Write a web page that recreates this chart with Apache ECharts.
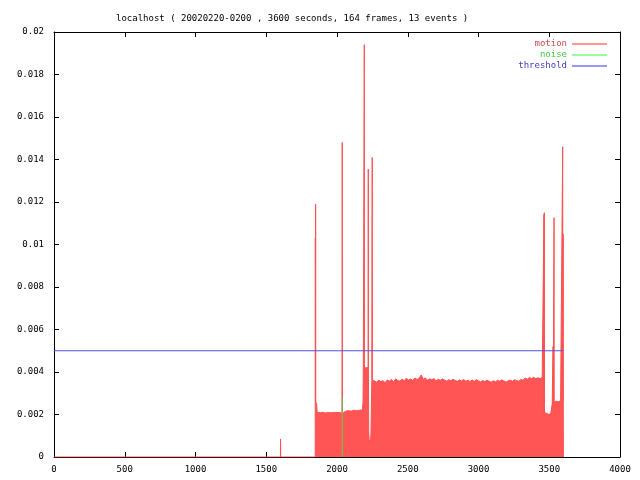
<!DOCTYPE html>
<html><head><meta charset="utf-8">
<script src="https://cdn.jsdelivr.net/npm/echarts@6/dist/echarts.min.js"></script>
<style>html,body{margin:0;padding:0;background:#fff}#c{width:640px;height:480px}</style>
</head><body><div id="c"></div>
<script>
const titleText = 'localhost ( 20020220-0200 , 3600 seconds, 164 frames, 13 events )';
const seriesNames = ['motion', 'noise', 'threshold'];
const xTicks = [0, 500, 1000, 1500, 2000, 2500, 3000, 3500, 4000];
const yTicks = [0, 0.002, 0.004, 0.006, 0.008, 0.01, 0.012, 0.014, 0.016, 0.018, 0.02];

const motionSeconds = [0,1600,1601,1602,1846,1847,1848,1849,1850,1856,1860,1880,1900,1920,1940,1960,1980,2000,2020,2035,2036,2037,2038,2039,2045,2060,2080,2100,2120,2140,2160,2180,2184,2186,2192,2193,2194,2220,2221,2222,2224,2228,2232,2236,2240,2246,2248,2249,2250,
2265,2280,2295,2310,2325,2340,2355,2370,2385,2400,2415,2430,2445,2460,2475,2490,2505,2520,2535,2550,2565,2580,2595,2610,2625,2640,2655,2670,2685,2700,2715,2730,2745,2760,2775,2790,2805,2820,2835,2850,2865,2880,2895,2910,2925,2940,2955,2970,2985,3000,3015,3030,3045,3060,3075,3090,3105,3120,3135,3150,3165,3180,3195,3210,3225,3240,3255,3270,3285,3300,3315,3330,3345,3360,3375,3390,3405,3420,3435,3450,3462,
3463,3464,3465,3466,3467,3480,3495,3510,3520,3521,3527,3528,3534,3535,3550,3565,3580,3594,3595,3596,3598,3599,3600];
const motionValues = [0,0,0.00085,0,0,0.0103,0.0026,0.0119,0.0026,0.0025,0.0021,0.00208,0.0021,0.00207,0.0021,0.00208,0.0021,0.00209,0.0021,0.00205,0.0052,0.0148,0.0052,0.00205,0.0021,0.00215,0.00218,0.00216,0.0022,0.00218,0.0022,0.00222,0.0026,0.0042,0.0042,0.0194,0.0042,0.0042,0.01355,0.0042,0.0012,0.0007,0.0008,0.0007,0.0011,0.0036,0.0036,0.0141,0.0036,
0.00358,0.00352,0.00362,0.00355,0.00359,0.0035,0.00362,0.00357,0.00365,0.00354,0.00368,0.0036,0.00357,0.00366,0.00359,0.00371,0.00362,0.00367,0.0036,0.00372,0.00365,0.00369,0.00386,0.00366,0.00372,0.00361,0.00368,0.00363,0.0037,0.00358,0.00366,0.00361,0.00368,0.00362,0.00357,0.00364,0.00359,0.00366,0.0036,0.00356,0.00363,0.00358,0.00365,0.00357,0.00361,0.00355,0.00362,0.00356,0.00364,0.00358,0.00353,0.0036,0.00355,0.00362,0.00356,0.00352,0.00359,0.00354,0.00361,0.00356,0.00363,0.00358,0.00352,0.00359,0.00362,0.00356,0.00364,0.00359,0.00357,0.00365,0.00361,0.00372,0.00366,0.00374,0.00369,0.00375,0.00368,0.00373,0.00369,0.00374,0.00366,
0.0114,0.0021,0.0115,0.0021,0.00203,0.00202,0.00201,0.00203,0.00202,0.0025,0.0052,0.0025,0.01126,0.0026,0.00262,0.0026,0.00265,0.0026,0.0146,0.0026,0.0105,0.0026,0];

const noiseSeconds = [2037, 2037];
const noiseValues = [0, 0.0028];
const thresholdSeconds = [0, 3600];
const thresholdValues = [0.005, 0.005];

const zip = (a, b) => a.map((t, i) => [t, b[i]]);
const FONT = 'DejaVu Sans Mono';
const fmtY = v => String(+v.toFixed(4));
const fmtX = v => String(v);

const chart = echarts.init(document.getElementById('c'), null, {renderer: 'canvas'});
const axisLine = {show: true, onZero: false, lineStyle: {color: '#000', width: 1}};
const tick = {show: true, inside: true, length: 5, lineStyle: {color: '#000'}};
chart.setOption({
  animation: false,
  backgroundColor: '#fff',
  title: {text: titleText, left: 111, top: 9,
    textStyle: {fontFamily: FONT, fontSize: 9, fontWeight: 'normal', color: '#000'}},
  grid: {left: 54, right: 20, top: 32, bottom: 23, containLabel: false},
  legend: {
    orient: 'vertical', right: 28, top: 33.5, align: 'right',
    itemWidth: 35, itemHeight: 1, itemGap: 0,
    textStyle: {fontFamily: FONT, fontSize: 9, lineHeight: 11},
    data: [
      {name: seriesNames[0], icon: 'rect', itemStyle: {color: '#ff3030'}, textStyle: {color: '#d04848'}},
      {name: seriesNames[1], icon: 'rect', itemStyle: {color: '#30ff30'}, textStyle: {color: '#40c840'}},
      {name: seriesNames[2], icon: 'rect', itemStyle: {color: '#3030ff'}, textStyle: {color: '#4040c0'}}
    ]
  },
  xAxis: [
    {type: 'value', min: xTicks[0], max: xTicks[xTicks.length - 1], interval: xTicks[1] - xTicks[0],
      axisLine, axisTick: tick, splitLine: {show: false},
      axisLabel: {fontFamily: FONT, fontSize: 9, color: '#000', margin: 8, formatter: fmtX}},
    {type: 'value', position: 'top', min: xTicks[0], max: xTicks[xTicks.length - 1], interval: xTicks[1] - xTicks[0],
      axisLine, axisTick: tick, splitLine: {show: false}, axisLabel: {show: false}}
  ],
  yAxis: [
    {type: 'value', min: yTicks[0], max: yTicks[yTicks.length - 1], interval: yTicks[1] - yTicks[0],
      axisLine, axisTick: tick, splitLine: {show: false},
      axisLabel: {fontFamily: FONT, fontSize: 9, color: '#000', margin: 10, formatter: fmtY}},
    {type: 'value', position: 'right', min: yTicks[0], max: yTicks[yTicks.length - 1], interval: yTicks[1] - yTicks[0],
      axisLine, axisTick: tick, splitLine: {show: false}, axisLabel: {show: false}}
  ],
  series: [
    {name: seriesNames[0], type: 'line', data: zip(motionSeconds, motionValues), showSymbol: false,
      lineStyle: {color: '#ff5050', width: 1}, itemStyle: {color: '#ff5050'},
      areaStyle: {color: '#ff5555', opacity: 1}, z: 2},
    {name: seriesNames[1], type: 'line', data: zip(noiseSeconds, noiseValues), showSymbol: false,
      lineStyle: {color: '#60d040', width: 1}, itemStyle: {color: '#60d040'}, z: 3},
    {name: seriesNames[2], type: 'line', data: zip(thresholdSeconds, thresholdValues), showSymbol: false,
      lineStyle: {color: '#5050e0', width: 1}, itemStyle: {color: '#5050e0'}, z: 4}
  ]
});
</script></body></html>
